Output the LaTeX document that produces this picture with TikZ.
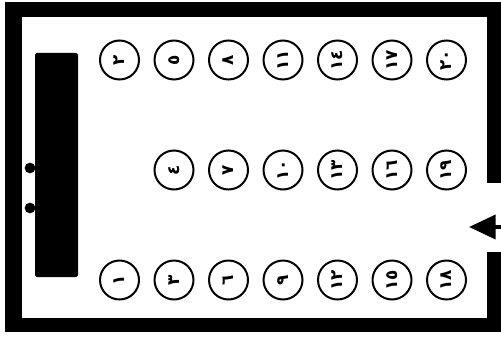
\documentclass[tikz,border=0pt]{standalone}
\usepackage{fontspec}
\newfontfamily\arabicfont[Script=Arabic]{DejaVu Sans}
\usetikzlibrary{arrows.meta}

\begin{document}
\begin{tikzpicture}[x=0.03cm, y=-0.03cm,
    seat/.style={draw, circle, line width=1.7pt, minimum size=1.17cm, inner sep=0pt, rotate=90, font=\arabicfont\bfseries\Large}]
    \useasboundingbox (0,0) rectangle (501,339);
    % walls
    \fill[black] (5,2) rectangle (501,332);
    \fill[white] (22,17) rectangle (487,318);
    \fill[white] (487,183) rectangle (501,252);
    % board
    \fill[black, rounded corners=2pt] (35,53) rectangle (78,277);
    \foreach \y in {168,208} \fill (30,\y) circle (0.16cm);
    % seats
    \foreach \i/\c/\r/\t in {1/0/2/١, 2/0/0/٢, 3/1/2/٣, 4/1/1/٤, 5/1/0/٥,
        6/2/2/٦, 7/2/1/٧, 8/2/0/٨, 9/3/2/٩, 10/3/1/١٠, 11/3/0/١١,
        12/4/2/١٢, 13/4/1/١٣, 14/4/0/١٤, 15/5/2/١٥, 16/5/1/١٦, 17/5/0/١٧,
        18/6/2/١٨, 19/6/1/١٩, 20/6/0/٢٠}
      \node[seat] (s\i) at ({119.5+54.5*\c},{60+110*\r}) {\t};
    % entrance
    \coordinate (door) at (501,227);
    \coordinate (entry) at (469,227);
    \draw[-{Triangle[length=0.8cm,width=0.72cm]}, line width=3.3pt] (door) -- (entry);
\end{tikzpicture}
\end{document}
